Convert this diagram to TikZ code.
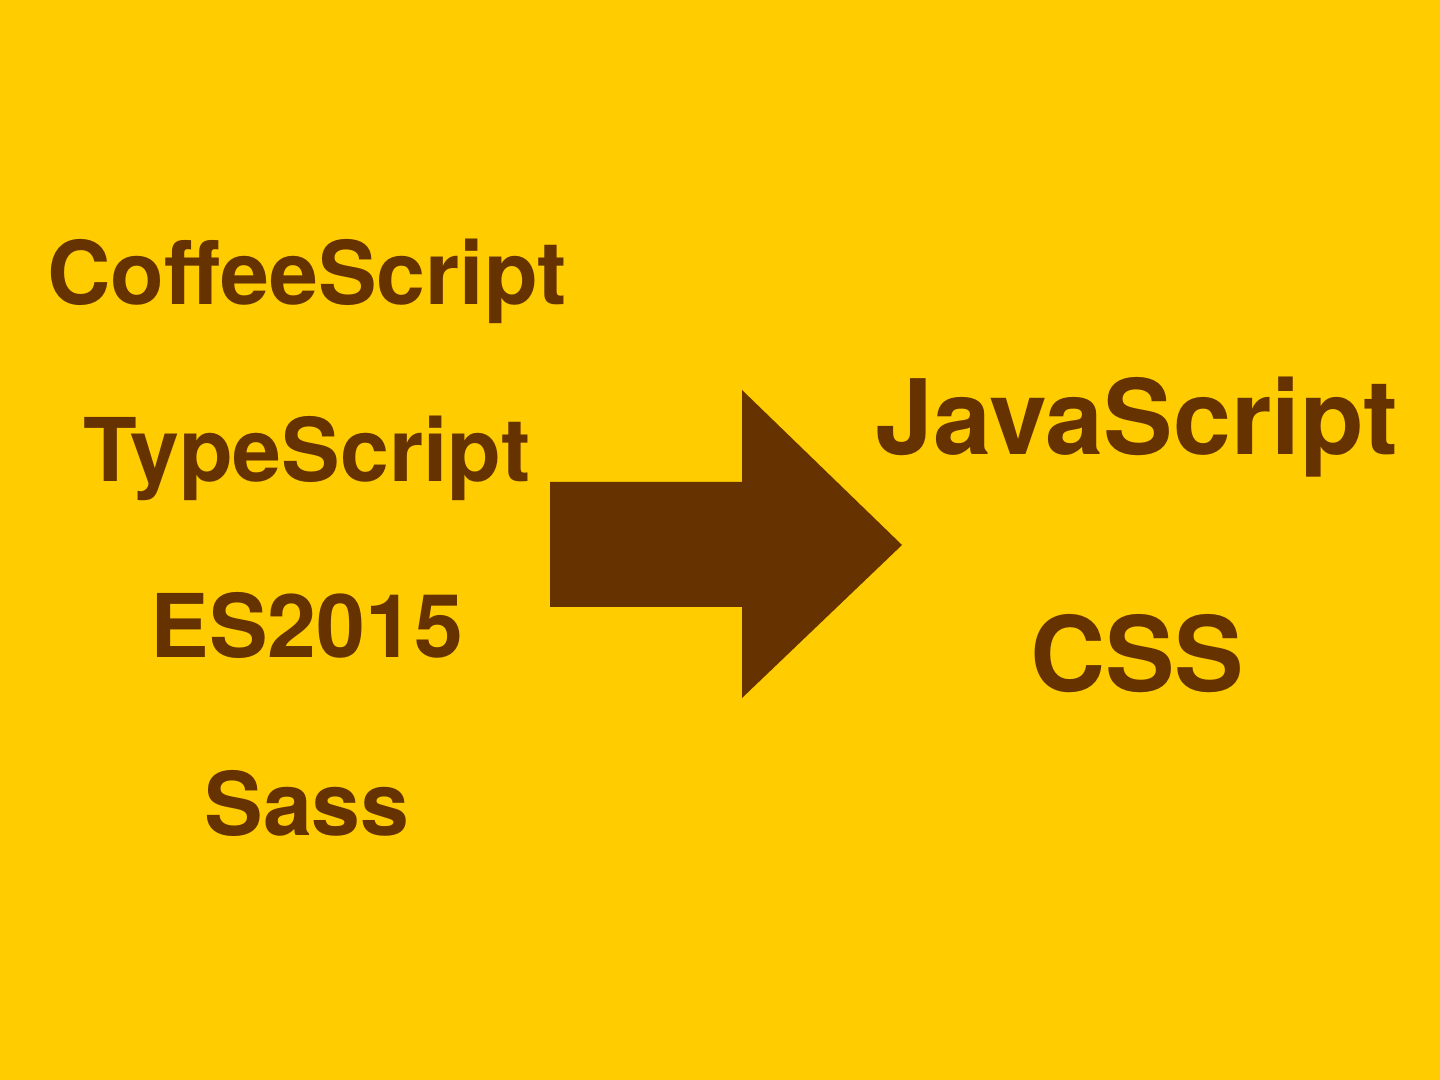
\documentclass[tikz,border=0pt]{standalone}
\usepackage{fontspec}
\setmainfont{TeX Gyre Heros}
\usepackage{tikz}

\definecolor{bgyellow}{HTML}{FFCC00}
\definecolor{brown}{HTML}{663300}

\tikzset{
	lang/.style={anchor=base, text=brown, font=\bfseries\fontsize{25.0}{30}\selectfont, inner sep=0pt},
	target/.style={lang, font=\bfseries\fontsize{29.6}{34}\selectfont}
}

\begin{document}
\begin{tikzpicture}[x=0.01cm, y=-0.01cm]
	\fill[bgyellow] (0,0) rectangle (1440,1080);

	\node[lang] (coffee) at (307, 305)   {CoffeeScript};
	\node[lang] (type)   at (307, 482)   {TypeScript};
	\node[lang] (es)     at (307, 658)   {ES2015};
	\node[lang] (sass)   at (307, 835)   {Sass};

	\node[target] (js)  at (1137, 455)  {JavaScript};
	\node[target] (css) at (1137, 692)  {CSS};

	\fill[brown] (550,482) -- (742,482) -- (742,390) -- (902,545)
		-- (742,698) -- (742,607) -- (550,607) -- cycle;

\end{tikzpicture}
\end{document}
